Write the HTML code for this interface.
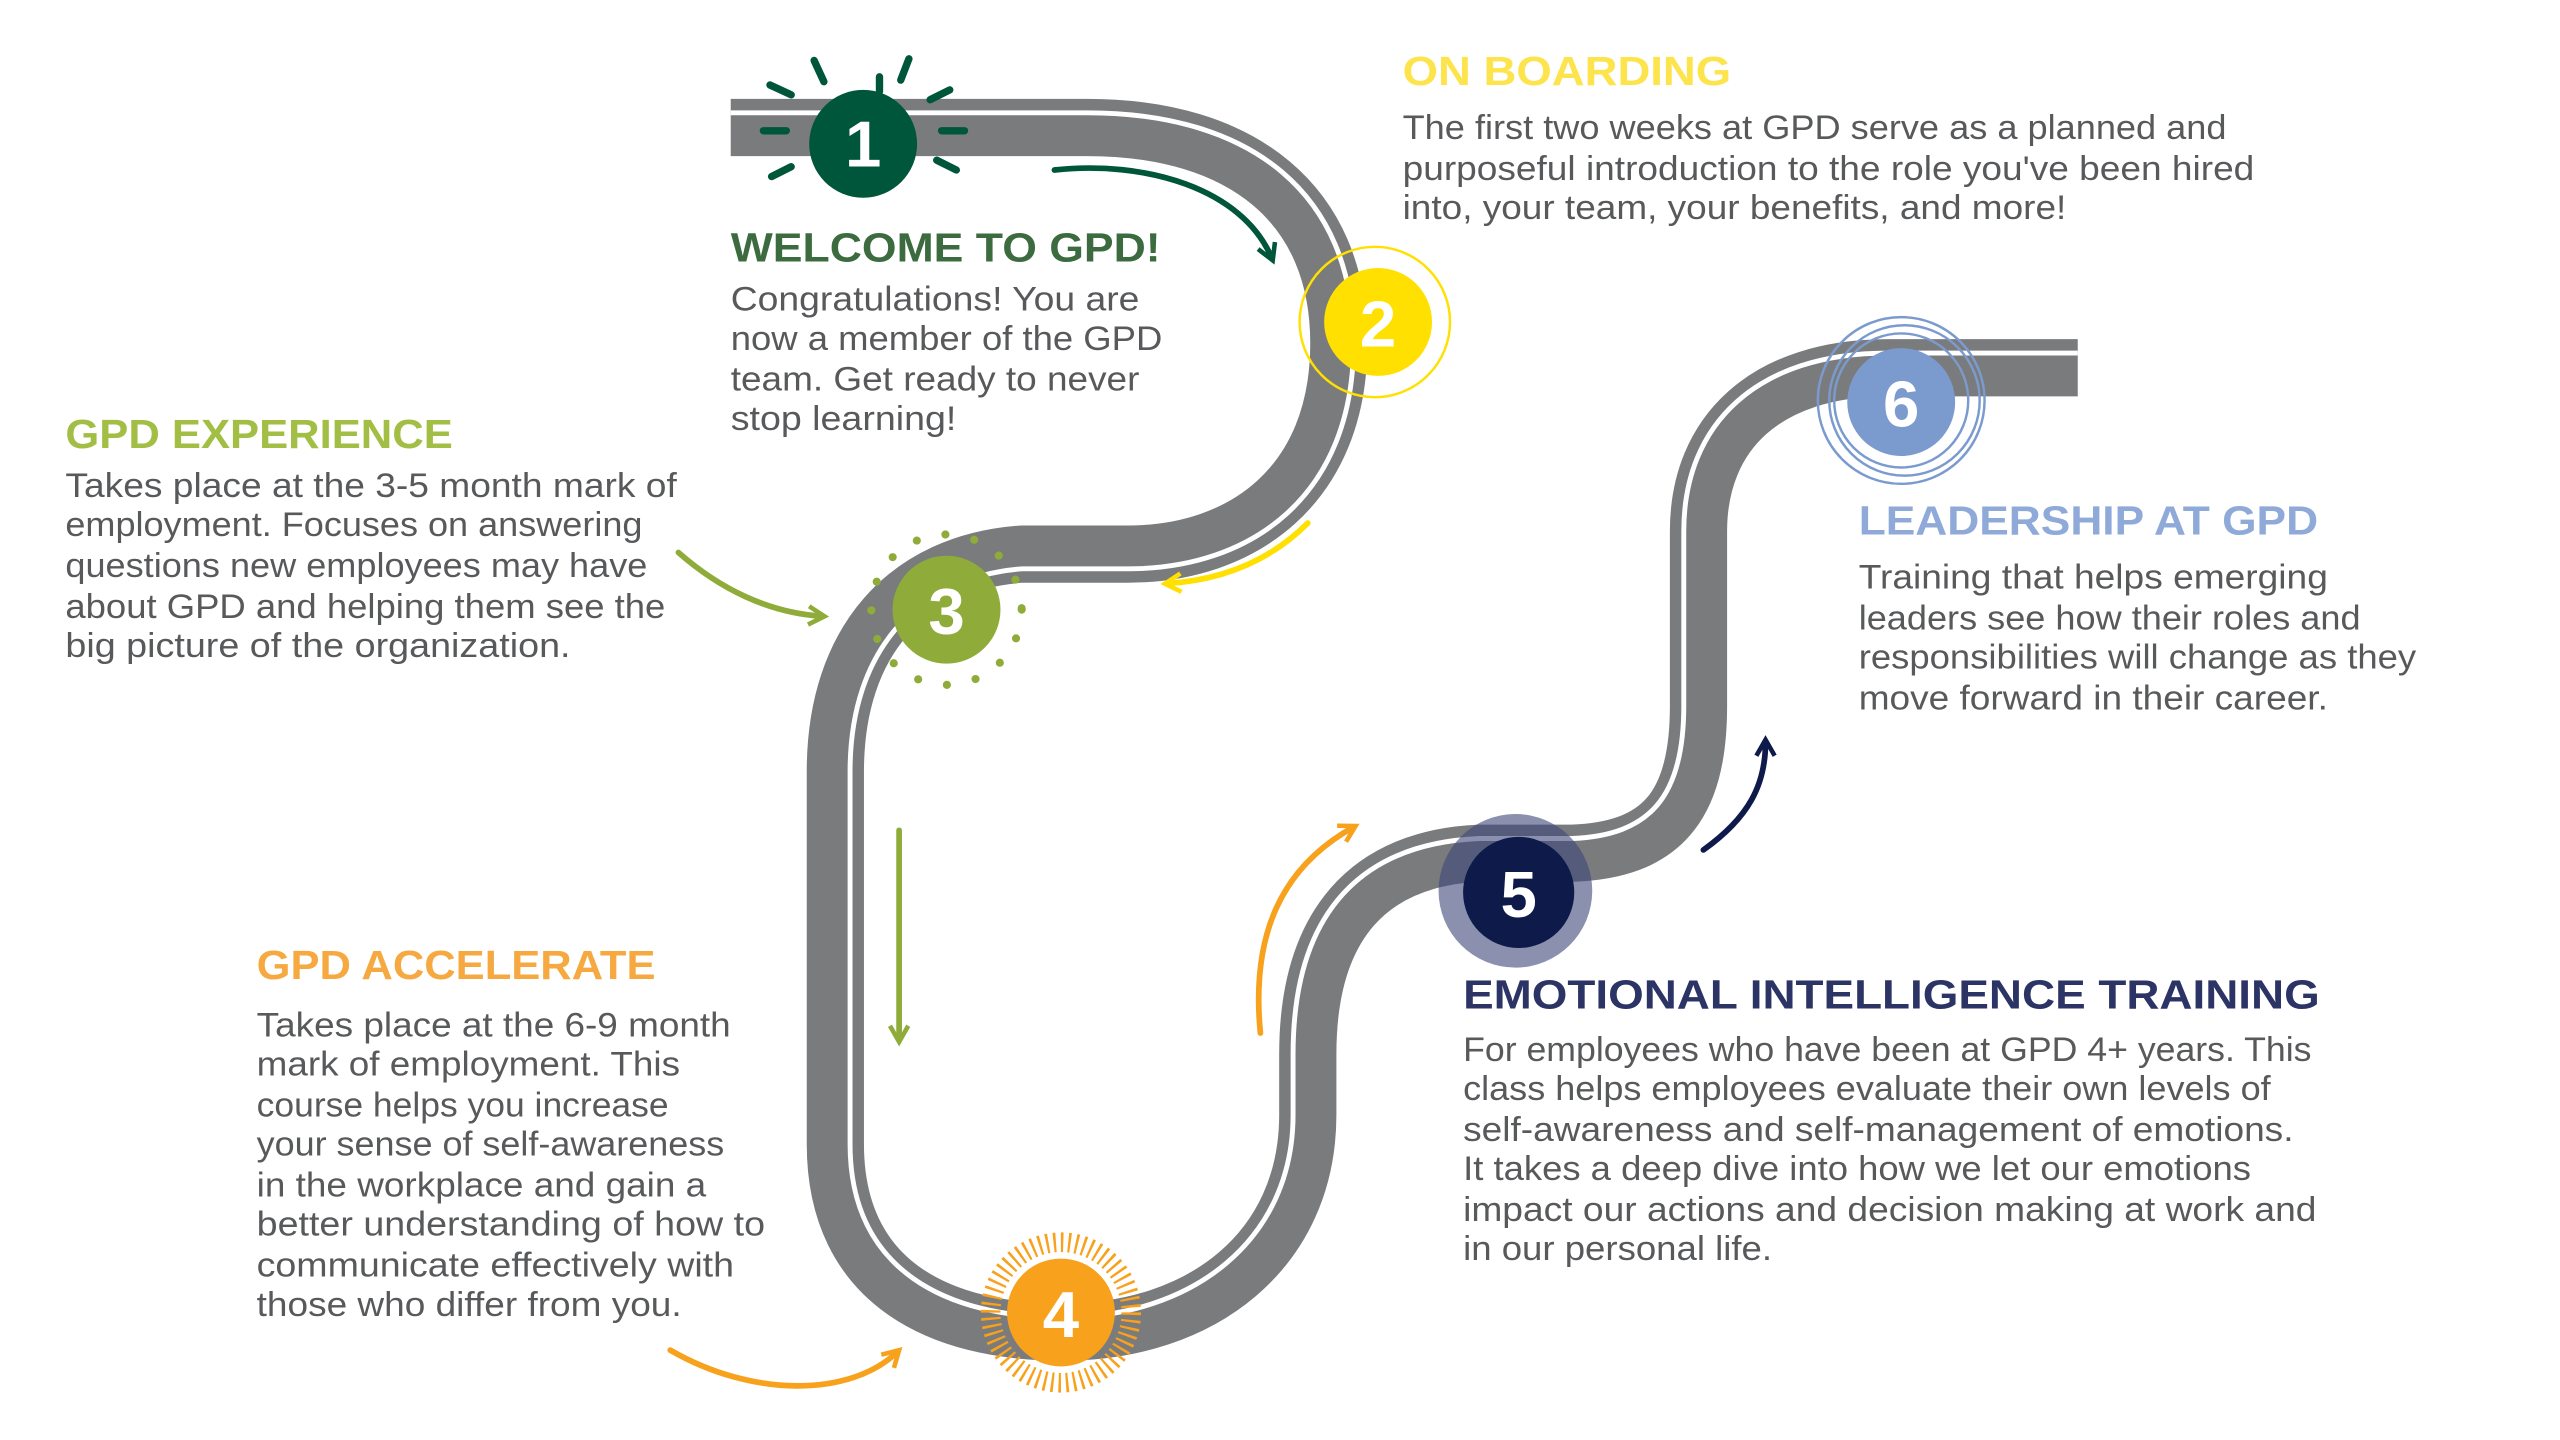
<!DOCTYPE html>
<html><head><meta charset="utf-8"><style>
html,body{margin:0;padding:0;background:#fff;}
svg{display:block;}
text{font-family:"Liberation Sans",sans-serif;}
.b{font-size:21px;fill:#58595b;}
.h{font-size:25px;font-weight:bold;}
</style></head><body>
<svg width="2560" height="1440" viewBox="0 0 1566 881" preserveAspectRatio="none" xmlns="http://www.w3.org/2000/svg">
<defs>
<marker id="mg" viewBox="0 0 10 10" refX="7" refY="5" markerWidth="4" markerHeight="4" orient="auto"><path d="M1,1 L8,5 L1,9" fill="none" stroke="#00563a" stroke-width="2"/></marker>
<marker id="my" viewBox="0 0 10 10" refX="7" refY="5" markerWidth="4" markerHeight="4" orient="auto"><path d="M1,1 L8,5 L1,9" fill="none" stroke="#ffe000" stroke-width="2"/></marker>
<marker id="ml" viewBox="0 0 10 10" refX="7" refY="5" markerWidth="4" markerHeight="4" orient="auto"><path d="M1,1 L8,5 L1,9" fill="none" stroke="#8fac3a" stroke-width="2"/></marker>
<marker id="mo" viewBox="0 0 10 10" refX="7" refY="5" markerWidth="4" markerHeight="4" orient="auto"><path d="M1,1 L8,5 L1,9" fill="none" stroke="#f7a11c" stroke-width="2"/></marker>
<marker id="mn" viewBox="0 0 10 10" refX="7" refY="5" markerWidth="4" markerHeight="4" orient="auto"><path d="M1,1 L8,5 L1,9" fill="none" stroke="#0d1a4a" stroke-width="2"/></marker>
</defs>

<!-- road -->
<path d="M447,78 H665 C760,78 819,125 819,210 C819,297 760,339 690,339 H625 C555,344 511,392 511,472 V700 C511,785 575,815 650,815 C735,815 800,765 800,682 V645 C800,565 838,525 905,522 H962 C1015,520 1039,495 1039,432 V325 C1039,265 1080,225 1155,225 H1271" fill="none" stroke="#7a7b7d" stroke-width="35"/>
<path d="M447,69 H665 C766,69 828,119 828,210 C828,303 766,348 690,348 H625 C562,353 520,397 520,472 V700 C520,778 580,806 650,806 C729,806 791,759 791,682 V645 C791,558 833,516 905,513 H962 C1008,511 1030,489 1030,432 V325 C1030,259 1075,216 1155,216 H1271" fill="none" stroke="#fff" stroke-width="3"/>

<!-- arrows -->
<g fill="none" stroke-width="3.5" stroke-linecap="round">
<path d="M645,104 C700,98 760,115 778,158" stroke="#00563a" marker-end="url(#mg)"/>
<path d="M800,320 C775,345 745,355 714,357" stroke="#ffe000" marker-end="url(#my)"/>
<path d="M415,338 C440,360 470,375 503,377" stroke="#8fac3a" marker-end="url(#ml)"/>
<path d="M550,508 V636" stroke="#8fac3a" marker-end="url(#ml)"/>
<path d="M410,826 C460,855 520,855 549,827" stroke="#f7a11c" marker-end="url(#mo)"/>
<path d="M771,632 C765,570 785,530 828,506" stroke="#f7a11c" marker-end="url(#mo)"/>
<path d="M1042,520 C1070,500 1080,480 1080,454" stroke="#0d1a4a" marker-end="url(#mn)"/>
</g>

<!-- node 1 -->
<g stroke="#00563a" stroke-width="4.5" stroke-linecap="round">
<line x1="467" y1="80" x2="481" y2="80"/><line x1="576" y1="80" x2="590" y2="80"/>
<line x1="538" y1="47" x2="538" y2="56"/>
<line x1="498" y1="37" x2="504" y2="50"/><line x1="556" y1="36" x2="551" y2="49"/>
<line x1="471" y1="52" x2="484" y2="58"/><line x1="581" y1="55" x2="569" y2="61"/>
<line x1="472" y1="108" x2="484" y2="102"/><line x1="585" y1="104" x2="573" y2="98"/>
</g>
<circle cx="528" cy="88" r="33" fill="#00563a"/>
<text x="528" y="102" text-anchor="middle" font-size="40" font-weight="bold" fill="#fff">1</text>

<!-- node 2 -->
<circle cx="841" cy="197" r="46" fill="none" stroke="#ffe000" stroke-width="1.5"/>
<circle cx="843" cy="197" r="33" fill="#ffe000"/>
<text x="843" y="212" text-anchor="middle" font-size="40" font-weight="bold" fill="#fff">2</text>

<!-- node 3 -->
<circle cx="579" cy="373" r="46" fill="none" stroke="#8fac3a" stroke-width="5" stroke-linecap="round" stroke-dasharray="0 18"/>
<circle cx="579" cy="373" r="33" fill="#8fac3a"/>
<text x="579" y="388" text-anchor="middle" font-size="40" font-weight="bold" fill="#fff">3</text>

<!-- node 4 -->
<circle cx="649" cy="803" r="43" fill="none" stroke="#f7a11c" stroke-width="12" stroke-dasharray="1.5 3"/>
<circle cx="649" cy="803" r="33" fill="#f7a11c"/>
<text x="649" y="818" text-anchor="middle" font-size="40" font-weight="bold" fill="#fff">4</text>

<!-- node 5 -->
<circle cx="927" cy="545" r="47" fill="#3c4678" fill-opacity="0.6"/>
<circle cx="929" cy="546" r="34" fill="#0d1a4a"/>
<text x="929" y="561" text-anchor="middle" font-size="40" font-weight="bold" fill="#fff">5</text>

<!-- node 6 -->
<circle cx="1163" cy="245" r="41" fill="none" stroke="#7b9bcf" stroke-width="1.5"/>
<circle cx="1165" cy="245" r="46" fill="none" stroke="#7b9bcf" stroke-width="1.5"/>
<circle cx="1163" cy="245" r="51" fill="none" stroke="#7b9bcf" stroke-width="1.5"/>
<circle cx="1163" cy="246" r="33" fill="#7b9bcf"/>
<text x="1163" y="261" text-anchor="middle" font-size="40" font-weight="bold" fill="#fff">6</text>

<!-- ON BOARDING -->
<text class="h" x="858" y="52" fill="#fde44c" textLength="201" lengthAdjust="spacingAndGlyphs">ON BOARDING</text>
<text class="b" x="858" y="85" textLength="504" lengthAdjust="spacingAndGlyphs">The first two weeks at GPD serve as a planned and</text>
<text class="b" x="858" y="110" textLength="521" lengthAdjust="spacingAndGlyphs">purposeful introduction to the role you've been hired</text>
<text class="b" x="858" y="134" textLength="406" lengthAdjust="spacingAndGlyphs">into, your team, your benefits, and more!</text>

<!-- WELCOME -->
<text class="h" x="447" y="160" fill="#3d6b40" textLength="263" lengthAdjust="spacingAndGlyphs">WELCOME TO GPD!</text>
<text class="b" x="447" y="190" textLength="250" lengthAdjust="spacingAndGlyphs">Congratulations! You are</text>
<text class="b" x="447" y="214" textLength="264" lengthAdjust="spacingAndGlyphs">now a member of the GPD</text>
<text class="b" x="447" y="239" textLength="250" lengthAdjust="spacingAndGlyphs">team. Get ready to never</text>
<text class="b" x="447" y="263" textLength="138" lengthAdjust="spacingAndGlyphs">stop learning!</text>

<!-- EXPERIENCE -->
<text class="h" x="40" y="274" fill="#a3be44" textLength="237" lengthAdjust="spacingAndGlyphs">GPD EXPERIENCE</text>
<text class="b" x="40" y="304" textLength="374" lengthAdjust="spacingAndGlyphs">Takes place at the 3-5 month mark of</text>
<text class="b" x="40" y="328" textLength="353" lengthAdjust="spacingAndGlyphs">employment. Focuses on answering</text>
<text class="b" x="40" y="353" textLength="356" lengthAdjust="spacingAndGlyphs">questions new employees may have</text>
<text class="b" x="40" y="378" textLength="367" lengthAdjust="spacingAndGlyphs">about GPD and helping them see the</text>
<text class="b" x="40" y="402" textLength="309" lengthAdjust="spacingAndGlyphs">big picture of the organization.</text>

<!-- ACCELERATE -->
<text class="h" x="157" y="599" fill="#f6a940" textLength="244" lengthAdjust="spacingAndGlyphs">GPD ACCELERATE</text>
<text class="b" x="157" y="634" textLength="290" lengthAdjust="spacingAndGlyphs">Takes place at the 6-9 month</text>
<text class="b" x="157" y="658" textLength="259" lengthAdjust="spacingAndGlyphs">mark of employment. This</text>
<text class="b" x="157" y="683" textLength="252" lengthAdjust="spacingAndGlyphs">course helps you increase</text>
<text class="b" x="157" y="707" textLength="286" lengthAdjust="spacingAndGlyphs">your sense of self-awareness</text>
<text class="b" x="157" y="732" textLength="275" lengthAdjust="spacingAndGlyphs">in the workplace and gain a</text>
<text class="b" x="157" y="756" textLength="311" lengthAdjust="spacingAndGlyphs">better understanding of how to</text>
<text class="b" x="157" y="781" textLength="292" lengthAdjust="spacingAndGlyphs">communicate effectively with</text>
<text class="b" x="157" y="805" textLength="260" lengthAdjust="spacingAndGlyphs">those who differ from you.</text>

<!-- EI -->
<text class="h" x="895" y="617" fill="#2b3465" textLength="524" lengthAdjust="spacingAndGlyphs">EMOTIONAL INTELLIGENCE TRAINING</text>
<text class="b" x="895" y="649" textLength="519" lengthAdjust="spacingAndGlyphs">For employees who have been at GPD 4+ years. This</text>
<text class="b" x="895" y="673" textLength="494" lengthAdjust="spacingAndGlyphs">class helps employees evaluate their own levels of</text>
<text class="b" x="895" y="698" textLength="508" lengthAdjust="spacingAndGlyphs">self-awareness and self-management of emotions.</text>
<text class="b" x="895" y="722" textLength="482" lengthAdjust="spacingAndGlyphs">It takes a deep dive into how we let our emotions</text>
<text class="b" x="895" y="747" textLength="522" lengthAdjust="spacingAndGlyphs">impact our actions and decision making at work and</text>
<text class="b" x="895" y="771" textLength="189" lengthAdjust="spacingAndGlyphs">in our personal life.</text>

<!-- LEADERSHIP -->
<text class="h" x="1137" y="327" fill="#8fa9d8" textLength="281" lengthAdjust="spacingAndGlyphs">LEADERSHIP AT GPD</text>
<text class="b" x="1137" y="360" textLength="287" lengthAdjust="spacingAndGlyphs">Training that helps emerging</text>
<text class="b" x="1137" y="385" textLength="307" lengthAdjust="spacingAndGlyphs">leaders see how their roles and</text>
<text class="b" x="1137" y="409" textLength="341" lengthAdjust="spacingAndGlyphs">responsibilities will change as they</text>
<text class="b" x="1137" y="434" textLength="287" lengthAdjust="spacingAndGlyphs">move forward in their career.</text>
</svg>
</body></html>
